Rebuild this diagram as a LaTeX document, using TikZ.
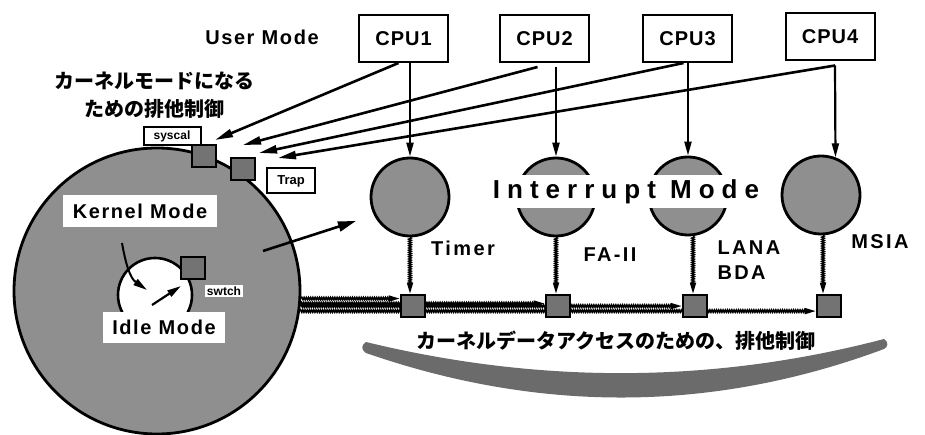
\documentclass[tikz,border=0pt]{standalone}
\usepackage{fontspec}
\setmainfont{Liberation Sans}
\newfontfamily\jpfont{Noto Sans CJK JP}
\newfontfamily\cpufont[LetterSpace=5]{Liberation Sans}
\newfontfamily\lblfont[LetterSpace=12]{Liberation Sans}
\newfontfamily\modefont[LetterSpace=8]{Liberation Sans}
\newfontfamily\intfont[LetterSpace=27]{Liberation Sans}
\usetikzlibrary{arrows.meta}
\usetikzlibrary{decorations.pathmorphing}
\usetikzlibrary{backgrounds}
\definecolor{halftone}{gray}{0.56}
\definecolor{lockgray}{gray}{0.45}

\begin{document}
\begin{tikzpicture}[x=1pt,y=-1pt,>={Triangle[length=14pt,width=7pt]}]

\tikzset{cpubox/.style={draw,line width=2pt,minimum width=89pt,minimum height=47pt,
  inner sep=0pt,font=\cpufont\bfseries\fontsize{20}{24}\selectfont}}
\tikzset{unit/.style={circle,draw,line width=2.8pt,fill=halftone,minimum size=78pt,inner sep=0pt}}
\tikzset{lock/.style={draw,line width=2.6pt,fill=lockgray,minimum width=24pt,minimum height=22pt,inner sep=0pt}}
\tikzset{tag/.style={draw,line width=2pt,inner sep=0pt,fill=white,font=\bfseries\fontsize{12}{14}\selectfont}}
\tikzset{modelbl/.style={fill=white,inner sep=0pt,font=\modefont\bfseries\fontsize{20}{24}\selectfont}}
\tikzset{devlbl/.style={font=\lblfont\bfseries\fontsize{20}{25}\selectfont}}
\tikzset{wavy/.style={decorate,decoration={snake,amplitude=1.1pt,segment length=2.2pt,post length=9pt},
  line width=1.6pt,-{Triangle[length=11pt,width=6pt]}}}
\tikzset{callarrow/.style={line width=2.6pt,->,>={Triangle[length=18pt,width=8pt]}}}

\useasboundingbox (0,0) rectangle (925,435);

%kernel circle
\node[circle,draw,line width=2.8pt,fill=halftone,minimum size=286pt,inner sep=0pt] (kernel) at (157,291) {};

%idle circle
\node[circle,draw,line width=2.6pt,fill=white,minimum size=74pt,inner sep=0pt] (idle) at (155,295) {};
\node[modelbl,minimum width=154pt,minimum height=32pt] (kernlbl) at (140,211) {Kernel Mode};
\node[modelbl,minimum width=122pt,minimum height=31pt] (idlelbl) at (164,327) {Idle Mode};

%kernel <-> idle
\coordinate (enterA) at (122,243);
\coordinate (enterB) at (147,290);
\coordinate (leaveA) at (152,305);
\coordinate (leaveB) at (181,286);
\draw[line width=2pt,->,>={Triangle[length=14pt,width=7pt]}] (enterA) to[out=-80,in=145] (enterB);
\draw[line width=2.2pt,->,>={Triangle[length=14pt,width=7pt]}] (leaveA) -- (leaveB);

%switch lock
\node[lock] (swlock) at (193,268) {};
\node[fill=white,inner sep=1.5pt,font=\bfseries\fontsize{12}{14}\selectfont] (swlbl) at (224,291) {swtch};

%syscall and trap locks
\node[lock] (syslock) at (204,156) {};
\node[lock] (traplock) at (243,169) {};
\node[tag,minimum width=57pt,minimum height=18pt] (syslbl) at (172,136) {syscal};
\node[tag,minimum width=48pt,minimum height=25pt,font=\bfseries\fontsize{13}{15}\selectfont] (traplbl) at (291,181) {Trap};

%texts
\node[modelbl,fill=none] (usermode) at (262,37) {User Mode};
\node[font=\jpfont\bfseries\fontsize{20}{28}\selectfont,align=center] (entrytxt) at (154,95)
  {カーネルモードになる\\ための排他制御};

%cpu boxes
\node[cpubox] (cpu1) at (403.5,38.5) {CPU1};
\node[cpubox] (cpu2) at (544.5,38.5) {CPU2};
\node[cpubox] (cpu3) at (687.5,38.5) {CPU3};
\node[cpubox] (cpu4) at (830,37) {CPU4};

%device circles
\node[unit] (timer) at (410,197) {};
\node[unit] (fa) at (556,197) {};
\node[unit] (lana) at (688,196) {};
\node[unit] (msia) at (821,195) {};
\node[fill=white,minimum width=286pt,minimum height=33pt,inner sep=0pt,
  font=\intfont\bfseries\fontsize{26}{30}\selectfont] (intmode) at (626,192) {Interrupt Mode};

\node[devlbl] (timerlbl) at (463,248) {Timer};
\node[devlbl] (falbl) at (610,255) {FA-II};
\node[devlbl,align=left,anchor=west] (lanalbl) at (714,260) {LANA\\BDA};
\node[devlbl] (msialbl) at (880,242) {MSIA};

%arrows to syscal / trap
\coordinate (sysA) at (215,140);
\coordinate (sysB) at (243,145);
\coordinate (sysC) at (259,153);
\coordinate (sysD) at (278,158);
\draw[callarrow] ([xshift=-5pt]cpu1.south) -- (sysA);
\draw[callarrow] ([xshift=-7pt,yshift=-4pt]cpu2.south) -- (sysB);
\draw[callarrow] ([xshift=-4pt]cpu3.south) -- (sysC);
\draw[callarrow] ([xshift=5pt,yshift=-4pt]cpu4.south) -- (sysD);

%arrows to interrupts
\draw[line width=2.2pt,->] (cpu1.south -| timer.north) -- (timer.north);
\draw[line width=2.2pt,->] ([yshift=-4pt]cpu2.south -| fa.north) -- (fa.north);
\draw[line width=2.2pt,->] (cpu3.south -| lana.north) -- (lana.north);
\draw[line width=2.2pt,->] ([xshift=5pt,yshift=-4pt]cpu4.south) -- (msia.69);

%kernel -> timer
\coordinate (kernout) at (263,251);
\coordinate (kernin) at (356,221);
\draw[line width=2.6pt,->,>={Triangle[length=18pt,width=10pt]}] (kernout) -- (kernin);

%data locks and wavy lines
\node[lock] (lockT) at (413,306) {};
\node[lock] (lockF) at (558,306) {};
\node[lock] (lockL) at (695,306) {};
\node[lock] (lockM) at (829,306) {};
\begin{scope}[on background layer]
\draw[wavy] (kernel.-3.6) -- (kernel.-3.6 -| lockT.west);
\draw[wavy] (kernel.-5.2) -- (kernel.-5.2 -| lockF.west);
\draw[wavy] (kernel.-6.8) -- (kernel.-6.8 -| lockL.west);
\draw[wavy] (kernel.-8.4) -- (kernel.-8.4 -| lockM.west);
\end{scope}
\draw[wavy] (timer.south) -- (timer.south |- lockT.north);
\draw[wavy] (fa.south) -- (fa.south |- lockF.north);
\draw[wavy] ([xshift=5pt]lana.south) -- ([xshift=5pt]lana.south |- lockL.north);
\draw[wavy] ([xshift=2pt]msia.south) -- ([xshift=2pt]msia.south |- lockM.north);

%crescent
\fill[black!58] (366,342) .. controls (539,384) and (712,384) .. (884,339)
  .. controls (889,342) and (888,347) .. (884,349)
  .. controls (712,413) and (539,413) .. (366,353)
  .. controls (361,350) and (361,345) .. (366,342) -- cycle;
\node[font=\jpfont\bfseries\fontsize{20}{24}\selectfont] (datatxt) at (616,341)
  {カーネルデータアクセスのための、排他制御};

\end{tikzpicture}
\end{document}
